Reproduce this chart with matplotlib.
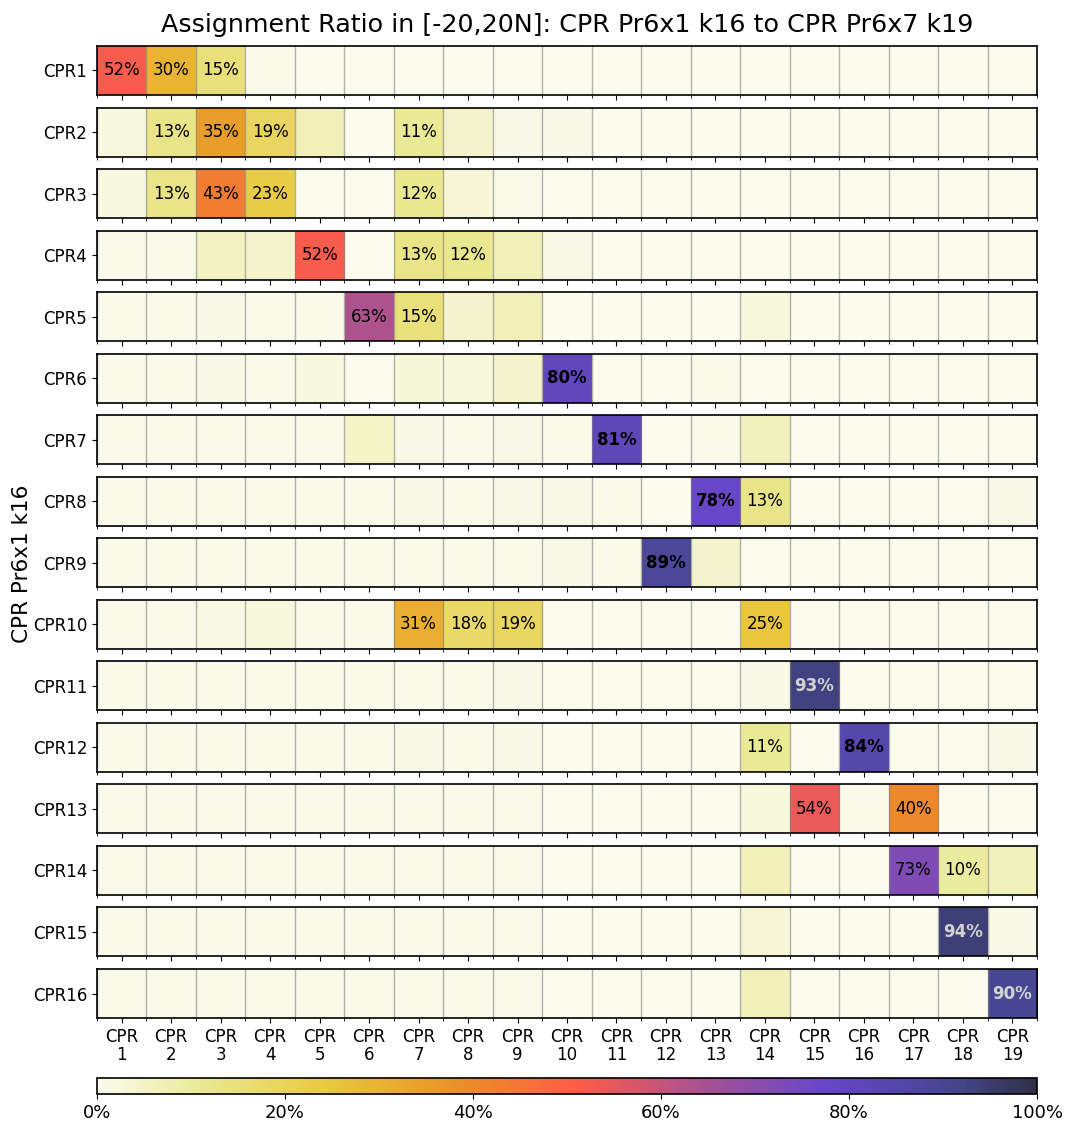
import numpy as np
import matplotlib
matplotlib.use("Agg")
import matplotlib.pyplot as plt
from matplotlib.colors import ListedColormap
from matplotlib.gridspec import GridSpec
from matplotlib.ticker import PercentFormatter

# source clusters (rows) and target clusters (columns)
src_labels = [f"CPR{i}" for i in range(1, 17)]
dst_labels = [f"CPR\n{j}" for j in range(1, 20)]

# assignment ratio in percent, one list per source cluster
cpr1 = [52, 30, 15, 0.5, 0.2, 0.2, 0.2, 0.2, 0.2, 0.2, 0.2, 0.2, 0.2, 0.2, 0.2, 0.2, 0.2, 0.2, 0.2]
cpr2 = [2, 13, 35, 19, 7, 0.2, 11, 4.5, 1.2, 1.2, 0.2, 0.2, 0.2, 0.2, 0.2, 0.2, 0.2, 0.2, 0.2]
cpr3 = [2, 13, 43, 23, 0.2, 0.2, 12, 3.5, 0.5, 0.2, 0.2, 0.2, 0.2, 0.2, 0.2, 0.2, 0.2, 0.2, 0.2]
cpr4 = [0.5, 0.5, 5.5, 4.5, 52, 0.2, 13, 12, 7, 1.2, 0.2, 0.2, 0.2, 0.2, 0.2, 0.2, 0.2, 0.2, 0.2]
cpr5 = [0.5, 0.5, 1.2, 0.5, 0.5, 63, 15, 4.5, 7, 0.2, 0.2, 0.2, 0.2, 2.5, 0.2, 0.2, 0.2, 0.2, 0.2]
cpr6 = [0.5, 0.5, 1, 0.5, 2, 0.2, 3, 2.5, 4.5, 80, 0.2, 0.2, 0.5, 0.2, 0.2, 0.2, 0.2, 0.2, 0.2]
cpr7 = [0.5, 0.5, 0.5, 0.5, 0.5, 5, 1.2, 0.5, 1.2, 0.5, 81, 0.2, 0.5, 6, 0.2, 0.2, 0.2, 0.2, 0.2]
cpr8 = [0.5, 0.5, 0.5, 0.5, 0.5, 0.5, 1.2, 0.5, 1, 1.2, 0.5, 0.2, 78, 13, 0.2, 0.2, 0.2, 0.2, 1.5]
cpr9 = [0.5, 0.5, 0.5, 0.5, 0.5, 0.5, 0.5, 0.5, 0.5, 1, 0.5, 89, 4.5, 0.2, 0.2, 0.2, 0.2, 0.2, 0.2]
cpr10 = [0.5, 0.5, 1.8, 2.5, 0.5, 0.5, 31, 18, 19, 0.2, 0.2, 0.2, 0.2, 25, 0.2, 0.2, 0.2, 0.2, 0.2]
cpr11 = [0.5, 0.5, 0.5, 0.5, 0.5, 0.5, 0.5, 0.5, 1.2, 0.2, 0.2, 0.2, 0.2, 1.2, 93, 0.2, 0.2, 0.2, 0.2]
cpr12 = [0.5, 0.5, 0.5, 0.5, 0.5, 0.5, 1, 0.5, 1, 0.2, 0.2, 0.2, 0.2, 11, 0.2, 84, 0.2, 0.2, 1.2]
cpr13 = [0.5, 0.5, 0.5, 0.5, 0.5, 0.5, 0.5, 0.5, 0.5, 0.2, 0.2, 0.2, 0.2, 2.5, 54, 0.5, 40, 0.2, 0.2]
cpr14 = [0.5, 0.5, 0.5, 0.5, 0.5, 0.5, 0.5, 0.5, 0.5, 0.2, 0.2, 0.2, 0.2, 7, 0.2, 0.2, 73, 10, 6]
cpr15 = [0.5, 0.5, 0.5, 0.5, 0.5, 0.5, 0.5, 0.5, 0.5, 0.2, 0.2, 0.2, 0.2, 3.5, 0.2, 0.2, 0.2, 94, 1]
cpr16 = [0.5, 0.5, 0.5, 0.5, 0.5, 0.5, 0.5, 0.5, 0.5, 0.2, 0.2, 0.2, 0.2, 7, 0.2, 0.2, 0.2, 0.2, 90]

ratios = np.array([cpr1, cpr2, cpr3, cpr4, cpr5, cpr6, cpr7, cpr8,
                   cpr9, cpr10, cpr11, cpr12, cpr13, cpr14, cpr15, cpr16])

n_src, n_dst = ratios.shape

# CMRmap_r trimmed at both ends: cream instead of white, navy instead of black
cmap = ListedColormap(plt.get_cmap("CMRmap_r")(np.linspace(0.02, 0.96, 256)))

fig = plt.figure(figsize=(10.67, 11.27), dpi=100)
gs = GridSpec(n_src, 1, figure=fig, left=0.0909, right=0.9719,
              top=0.9592, bottom=0.0967, hspace=0.255)

for i in range(n_src):
    ax = fig.add_subplot(gs[i])
    im = ax.imshow(ratios[i][None, :], cmap=cmap, vmin=0, vmax=100,
                   aspect="auto", alpha=0.85)
    ax.set_yticks([0])
    ax.set_yticklabels([src_labels[i]], fontsize=12)
    ax.set_xticks(np.arange(n_dst))
    ax.set_xticks(np.arange(-0.5, n_dst, 1), minor=True)
    ax.grid(which="minor", axis="x", color="gray", lw=1, alpha=0.6)
    ax.tick_params(which="minor", axis="y", left=False)
    for sp in ax.spines.values():
        sp.set_linewidth(1.2)
    if i == n_src - 1:
        ax.set_xticklabels(dst_labels, fontsize=12, linespacing=1.0)
    else:
        ax.tick_params(axis="x", labelbottom=False)
    if i == 0:
        ax.set_title("Assignment Ratio in [-20,20N]: CPR Pr6x1 k16 to CPR Pr6x7 k19",
                     fontsize=18.3, pad=10)

    for j, v in enumerate(ratios[i]):
        if v < 10:
            continue
        weight = "bold" if v > 75 else "normal"
        color = "lightgray" if v >= 90 else "black"
        ax.text(j, 0, f"{v:.0f}%", ha="center", va="center",
                fontsize=12, fontweight=weight, color=color)

fig.text(0.011, 0.5, "CPR Pr6x1 k16", rotation=90, ha="left", va="center",
         fontsize=15.5)

cax = fig.add_axes([0.0909, 0.0293, 0.881, 0.0142])
cb = fig.colorbar(im, cax=cax, orientation="horizontal",
                  format=PercentFormatter(xmax=100, decimals=0))
cb.set_ticks([0, 20, 40, 60, 80, 100])
cb.ax.tick_params(labelsize=13)
cb.outline.set_linewidth(1.2)

fig.savefig("out.png", dpi=100)
